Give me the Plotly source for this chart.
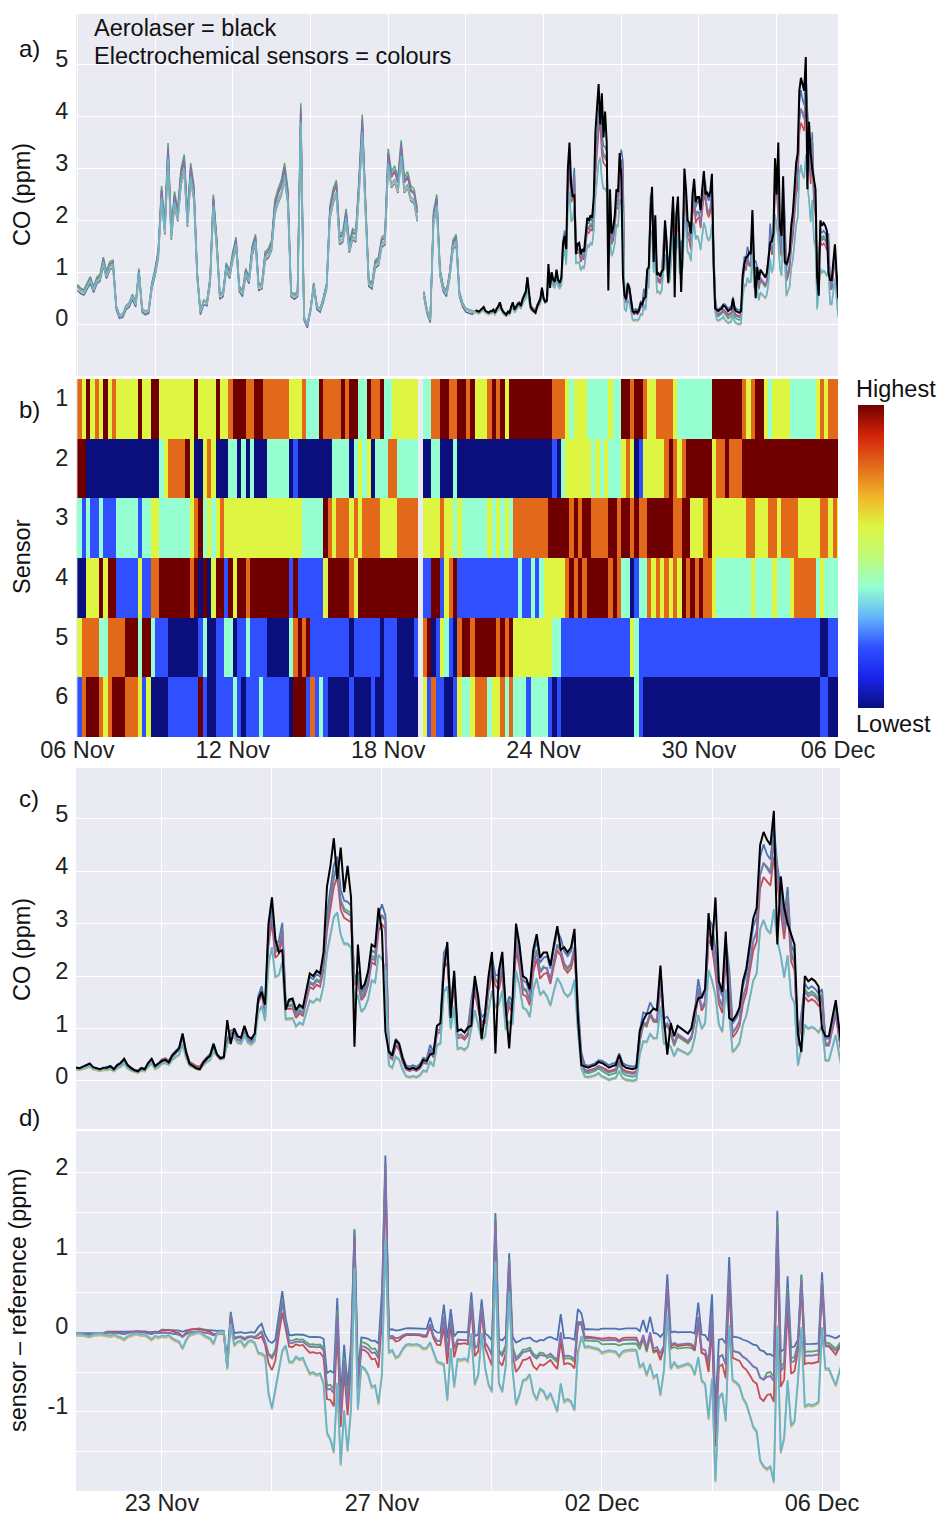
import numpy as np
import pandas as pd
import plotly.graph_objects as go

# ---------------------------------------------------------------- data ----
SENSOR_COLOURS = ["#4C72B0", "#55A868", "#C44E52", "#8172B2", "#CCB974", "#64B5CD"]

# Electrochemical sensor band (3-hourly, from 06 Nov 00:00); None = data gap
early_base = [
    0.72, 0.66, 0.63, 0.75, 0.86, 0.68, 0.85, 0.90, 1.20, 0.95,
    1.12, 1.15, 0.35, 0.18, 0.20, 0.35, 0.40, 0.55, 0.40, 1.00,
    0.30, 0.25, 0.28, 0.75, 1.00, 1.35, 2.45, 1.80, 3.20, 1.70,
    2.35, 2.05, 2.75, 3.00, 1.95, 2.85, 2.45, 0.95, 0.25, 0.45,
    0.42, 0.85, 2.30, 1.55, 0.55, 0.60, 1.10, 0.95, 1.30, 1.55,
    0.70, 0.60, 1.00, 0.85, 1.40, 1.60, 0.72, 0.75, 1.30, 1.35,
    1.50, 2.20, 2.40, 2.55, 2.85, 2.40, 0.60, 0.55, 0.60, 3.90,
    0.15, 0.00, 0.30, 0.75, 0.35, 0.30, 0.50, 0.75, 2.10, 2.40,
    2.55, 1.60, 1.65, 2.05, 1.45, 1.70, 1.65, 2.60, 3.70, 2.20,
    0.80, 0.75, 1.15, 1.20, 1.55, 1.60, 3.10, 2.70, 2.80, 2.60,
    3.25, 2.60, 2.70, 2.45, 2.40, 2.05, None, 0.60, 0.27, 0.10,
    2.00, 2.30, 1.00, 0.70, 0.60, 0.95, 1.50, 1.60, 0.60, 0.40,
    0.30, 0.28, 0.26,
]
early_gain = [1.00, 1.10, 1.06, 1.08, 0.99, 1.00]
early_offset = [-0.07, -0.03, -0.03, -0.05, -0.02, 0.00]

# Aerolaser reference CO (ppm), every 90 min from 21 Nov 09:00
ref_co = [
    0.27, 0.25, 0.24, 0.27, 0.30, 0.33, 0.26, 0.24, 0.22, 0.25,
    0.25, 0.28, 0.22, 0.30, 0.34, 0.42, 0.30, 0.24, 0.20, 0.18,
    0.24, 0.22, 0.34, 0.42, 0.28, 0.33, 0.38, 0.40, 0.35, 0.48,
    0.56, 0.62, 0.90, 0.55, 0.33, 0.28, 0.24, 0.22, 0.34, 0.42,
    0.48, 0.70, 0.50, 0.43, 0.45, 1.16, 0.70, 1.00, 0.85, 0.82,
    1.05, 0.85, 0.80, 0.90, 1.55, 1.70, 1.45, 3.00, 3.50, 2.70,
    2.45, 2.50, 1.35, 1.55, 1.57, 1.35, 1.45, 1.40, 1.75, 2.05,
    2.00, 2.10, 2.05, 2.45, 3.70, 4.10, 4.63, 3.85, 4.45, 3.60,
    4.10, 3.50, 0.65, 2.60, 1.75, 1.85, 2.10, 2.60, 2.55, 3.30,
    2.85, 0.94, 0.55, 0.48, 0.78, 0.70, 0.43, 0.25, 0.22, 0.25,
    0.22, 0.27, 0.40, 0.38, 0.50, 0.52, 1.05, 1.10, 2.10, 2.65,
    1.20, 2.10, 0.95, 0.98, 0.92, 1.02, 1.05, 2.00, 1.60, 0.80,
    1.30, 2.00, 2.46, 0.52, 2.10, 2.46, 1.40, 0.62, 1.57, 3.00,
    2.60, 2.00, 1.95, 1.75, 2.50, 2.80, 2.35, 2.45, 2.45, 2.20,
    2.60, 2.95, 2.50, 2.55, 2.45, 2.55, 2.90, 1.20, 0.30, 0.27,
    0.25, 0.28, 0.30, 0.36, 0.34, 0.30, 0.25, 0.28, 0.30, 0.49,
    0.30, 0.25, 0.24, 0.22, 0.25, 0.95, 1.15, 1.28, 1.30, 1.38,
    1.35, 2.20, 1.20, 0.50, 1.10, 0.85, 1.05, 1.00, 0.95, 0.90,
    1.00, 1.35, 1.57, 1.60, 1.75, 3.20, 2.50, 3.50, 1.90, 1.70,
    2.85, 1.20, 1.15, 1.25, 1.40, 1.90, 2.15, 2.60, 3.10, 3.30,
    4.50, 4.75, 4.60, 4.50, 5.15, 2.60, 3.90, 3.30, 3.00, 2.80,
    2.60, 0.90, 0.55, 2.00, 1.90, 1.95, 1.90, 1.80, 1.00, 0.85,
    0.85, 1.20, 1.54, 1.00, 0.50,
]

# sensor response relative to the reference
sensor_gain = [0.95, 0.90, 0.85, 0.90, 0.70, 0.70]
# daily baseline offsets (ppm), 21 Nov ... 05 Dec
daily_offset = [
    [0.00, 0.02, 0.05, 0.04, 0.04, 0.02, 0.06, 0.05, 0.02, 0.05, 0.06, 0.05, 0.00, -0.05, 0.00],
    [0.00, 0.02, 0.03, 0.03, 0.05, 0.05, 0.00, 0.00, -0.02, -0.08, -0.12, -0.10, -0.12, -0.05, -0.05],
    [0.00, 0.04, 0.08, 0.06, 0.05, 0.05, 0.00, 0.00, -0.05, -0.02, -0.03, -0.02, -0.15, -0.10, -0.05],
    [0.00, 0.02, 0.03, 0.02, 0.02, 0.00, 0.00, 0.00, -0.05, -0.05, -0.07, -0.05, -0.12, -0.10, -0.08],
    [0.03, 0.02, 0.05, 0.12, 0.08, 0.08, -0.10, -0.07, -0.02, -0.12, -0.17, -0.14, -0.27, -0.35, -0.22],
    [0.05, 0.04, 0.07, 0.14, 0.10, 0.10, -0.08, -0.05, 0.00, -0.10, -0.15, -0.12, -0.25, -0.33, -0.20],
]
# short-lived sensor/reference mismatches (sensor response lag)
lag_time = [
    "2015-11-24 04:30", "2015-11-24 06:00", "2015-11-24 18:00", "2015-11-24 19:30",
    "2015-11-25 03:00", "2015-11-25 04:30", "2015-11-25 06:00", "2015-11-26 00:00",
    "2015-11-26 01:30", "2015-11-26 03:00", "2015-11-26 04:30", "2015-11-26 06:00",
    "2015-11-26 09:00", "2015-11-26 12:00", "2015-11-26 13:30", "2015-11-27 00:00",
    "2015-11-27 01:30", "2015-11-27 21:00", "2015-11-28 03:00", "2015-11-28 06:00",
    "2015-11-28 15:00", "2015-11-28 19:30", "2015-11-29 01:30", "2015-11-29 07:30",
    "2015-11-30 06:00", "2015-11-30 13:30", "2015-11-30 15:00", "2015-12-01 18:00",
    "2015-12-01 21:00", "2015-12-02 04:30", "2015-12-02 18:00", "2015-12-03 00:00",
    "2015-12-03 01:30", "2015-12-03 07:30", "2015-12-04 04:30", "2015-12-04 09:00",
    "2015-12-04 15:00", "2015-12-05 00:00",
]
lag_ppm = [
    -0.35, 0.25, 0.10, 0.15,
    0.30, 0.60, 0.20, -0.35,
    -0.30, -0.30, 0.60, -0.60,
    -0.50, 1.30, -0.40, 0.60,
    2.20, 0.15, 0.40, 0.30,
    0.50, 0.40, 1.50, 1.00,
    0.30, 0.30, 0.20, 0.15,
    0.20, 0.70, 0.40, 0.60,
    -0.80, 1.00, 1.70, 0.90,
    0.80, 0.80,
]
lag_weight = [1.0, 1.0, 0.95, 1.0, 0.7, 0.7]

# sensor rank (N=1 lowest ... R=6 highest), 4-hourly from 06 Nov 00:00
RANK_CODE = {"N": 1, "B": 2, "A": 3, "Y": 4, "O": 5, "R": 6}
rank_rows = [
    "OYRYOYRYOY" "YYYYRYYRRY" "YYYYYYYRYY" "YYRYYORRRO" "ORROOOOOOY" "YYOAAAROOO"
    "ORORRAAROO" "RAAYYYYYY." "AAOORROORR" "ORYYYORORY" "RRRRRRRRRR" "OOOYAYYYAA"
    "AAAYAARROR" "ROYYOOOOYA" "AAAAAAARRR" "RRRROYORRY" "AYYYYAAAAA" "AYOYOOO",
    "RRNNNNNNNN" "NNNNNNNNNA" "YOOOORYNNY" "OYNNNAANAN" "ANNNAAAAAN" "BNNNNNNNNA"
    "AAANAYAYNA" "AAOOAAAAA." "NNAANNNANN" "NNNNNNNNNN" "NNNNNNNNNN" "BNAYYYYYYA"
    "YAYAAAYOYN" "BYYYYYOROY" "ORRRRRRYOO" "ROOORRRRRR" "RRRRRRRRRR" "RRRRRRR",
    "ABABBABBBA" "AAAABAAYYA" "AAAAAAYORA" "YAYOYYYYYY" "YYYYYYYYYY" "YYAAAAAROY"
    "OOOYOYOOOO" "YYYYOOOOO." "YYYYOYYAYA" "AAAAAYAYAY" "AOOOOOOOOR" "RRRRORORRO"
    "OOORRORROR" "OORRRRRROO" "RRYYYORYYY" "YYYYYOOYYY" "OOYOOOOYYY" "YYOOYOY",
    "NNYYYRYRRB" "BBBBYBBOOR" "RRRRRRORNR" "NYRRBRYRRO" "RRRRRRRRRB" "RBBBBBBYRR"
    "RRROYRRRRR" "RRRRRRRRR." "BBRRBYORBB" "BBBBBBBBBB" "BBABBABAYY" "YYYORORORR"
    "RRROROAANB" "AAOYOYOYOY" "ROROROOYAA" "AAAAAAYAAA" "AYAAAYOOOO" "OAYAAAA",
    "YOOOOAAOOO" "ORRRARRABB" "BNNNNNNNBA" "NNBBAANBBA" "BBBBNNNNNA" "ORORBBBBBB"
    "BBBNBBBBBB" "NBBBNNNNB." "ORNBYABNOR" "RORRRRRORO" "RYYYYYYYYY" "AABBBBBBBB"
    "BBBBBBBBYA" "BBBBBBBBBB" "BBBBBBBBBB" "BBBBBBBBBB" "BBBBBBBBBB" "BBNNBBB",
    "BORRROYORR" "ROOOYBYNNN" "NBBBBBBBRB" "NNBBBBABNB" "BBABBBBBBN" "RRRBOBABNN"
    "NNNBNNNNBN" "NBBBNNNNN." "YBOBBNNBYA" "AYOOOAYYOA" "OAAABAAAAB" "NBNNNNNNNN"
    "NNNNNNNNNA" "BNNNNNNNNN" "NNNNNNNNNN" "NNNNNNNNNN" "NNNNNNNNNN" "NNBBNNN",
]
sensor_ids = [1, 2, 3, 4, 5, 6]

panel_a_ticks = ["2015-11-06", "2015-11-12", "2015-11-18", "2015-11-24", "2015-11-30", "2015-12-05 08:50"]
panel_a_labels = ["06 Nov", "12 Nov", "18 Nov", "24 Nov", "30 Nov", "06 Dec"]
panel_d_ticks = ["2015-11-23", "2015-11-27", "2015-12-01", "2015-12-05"]
panel_d_labels = ["23 Nov", "27 Nov", "02 Dec", "06 Dec"]

# ------------------------------------------------------------ derived ----
t_early = pd.date_range("2015-11-06 00:00", periods=len(early_base), freq="3h")
t_ref = pd.date_range("2015-11-21 09:00", periods=len(ref_co), freq="90min")
day_idx = np.asarray((t_ref - pd.Timestamp("2015-11-21")).days)

base = np.array([np.nan if v is None else v for v in early_base], dtype=float)
ref = np.array(ref_co, dtype=float)
lag = pd.Series(0.0, index=t_ref)
lag.loc[pd.to_datetime(lag_time)] = lag_ppm
lag = lag.to_numpy()

early_series, late_series = [], []
for k in range(6):
    early_series.append(early_gain[k] * base + early_offset[k])
    late_series.append(sensor_gain[k] * ref + np.array(daily_offset[k])[day_idx]
                       + lag_weight[k] * lag)

n_cols = 177
t_rank = pd.date_range("2015-11-06 02:00", periods=n_cols, freq="4h")
z_rank = []
for row in rank_rows:
    row = row.ljust(n_cols, row[-1])[:n_cols]
    z_rank.append([RANK_CODE.get(c) for c in row])

# -------------------------------------------------------------- figure ----
W, H = 943, 1515
FONT = "Liberation Sans, Arial, sans-serif"
BG = "#EAEAF2"
DAY = 86400000
TXT = 23.5


def px(x):
    return x / W


def py(y):
    return 1 - y / H


fig = go.Figure()
t_all = t_early.append(t_ref)
for k in range(6):
    fig.add_trace(go.Scatter(
        x=t_all, y=np.concatenate([early_series[k], late_series[k]]),
        mode="lines", line=dict(color=SENSOR_COLOURS[k], width=1.5),
        xaxis="x", yaxis="y", showlegend=False))
fig.add_trace(go.Scatter(x=t_ref, y=ref, mode="lines", line=dict(color="black", width=2),
                         xaxis="x", yaxis="y", showlegend=False))

rank_scale = [
    [0.0, "rgb(10,15,125)"], [0.1, "rgb(25,35,235)"], [0.2, "rgb(48,80,255)"],
    [0.3, "rgb(100,180,250)"], [0.4, "rgb(150,255,210)"], [0.5, "rgb(190,250,120)"],
    [0.6, "rgb(222,245,66)"], [0.7, "rgb(240,180,40)"], [0.8, "rgb(226,105,26)"],
    [0.9, "rgb(210,35,10)"], [1.0, "rgb(112,0,0)"],
]
fig.add_trace(go.Heatmap(
    x=t_rank, y=sensor_ids, z=z_rank, zmin=1, zmax=6, colorscale=rank_scale,
    xaxis="x2", yaxis="y2", hoverongaps=False,
    colorbar=dict(x=px(858), xanchor="left", y=py(556.5), yanchor="middle",
                  len=303 / H, lenmode="fraction", thickness=26, outlinewidth=0,
                  xpad=0, ypad=0, showticklabels=False, ticks="")))

for k in range(6):
    fig.add_trace(go.Scatter(x=t_ref, y=late_series[k], mode="lines",
                             line=dict(color=SENSOR_COLOURS[k], width=1.8),
                             xaxis="x3", yaxis="y3", showlegend=False))
fig.add_trace(go.Scatter(x=t_ref, y=ref, mode="lines", line=dict(color="black", width=2),
                         xaxis="x3", yaxis="y3", showlegend=False))

for k in range(6):
    fig.add_trace(go.Scatter(x=t_ref, y=late_series[k] - ref, mode="lines",
                             line=dict(color=SENSOR_COLOURS[k], width=1.8),
                             xaxis="x4", yaxis="y4", showlegend=False))

tickfont = dict(family=FONT, size=TXT, color="#222")
grid = dict(showgrid=True, gridcolor="white", gridwidth=1.3, zeroline=False,
            showline=False, automargin=False)
ypad = dict(ticks="outside", ticklen=2, tickcolor="rgba(0,0,0,0)", tickfont=tickfont)
range_ab = ["2015-11-05 22:42", "2015-12-05 08:50"]
range_cd = ["2015-11-21 10:30", "2015-12-05 07:51"]
dom_ab = [px(76), px(838)]
dom_cd = [px(76), px(840)]

fig.update_layout(
    width=W, height=H, margin=dict(l=0, r=0, t=0, b=0, autoexpand=False),
    paper_bgcolor="white", plot_bgcolor=BG, showlegend=False,
    font=dict(family=FONT, size=TXT, color="#222"),
    xaxis=dict(domain=dom_ab, anchor="y", type="date", range=range_ab,
               tick0="2015-11-06", dtick=3 * DAY, showticklabels=False, **grid),
    yaxis=dict(domain=[py(376), py(14)], anchor="x", range=[-1.0, 5.98],
               tickvals=[0, 1, 2, 3, 4, 5], ticklabelshift=-6, **grid, **ypad),
    xaxis2=dict(domain=dom_ab, anchor="y2", type="date", range=range_ab,
                tickvals=panel_a_ticks, ticktext=panel_a_labels, showgrid=False,
                zeroline=False, automargin=False, ticks="", ticklabelstandoff=-4,
                tickfont=tickfont),
    yaxis2=dict(domain=[py(737), py(379)], anchor="x2", range=[6.5, 0.5],
                tickvals=sensor_ids, ticklabelshift=11, showgrid=False, zeroline=False,
                automargin=False, **ypad),
    xaxis3=dict(domain=dom_cd, anchor="y3", type="date", range=range_cd,
                tick0="2015-11-21", dtick=2 * DAY, showticklabels=False, **grid),
    yaxis3=dict(domain=[py(1129), py(768)], anchor="x3", range=[-0.92, 5.97],
                tickvals=[0, 1, 2, 3, 4, 5], ticklabelshift=-5, **grid, **ypad),
    xaxis4=dict(domain=dom_cd, anchor="y4", type="date", range=range_cd,
                tickvals=panel_d_ticks, ticktext=panel_d_labels,
                ticks="", ticklabelstandoff=-5, tickfont=tickfont,
                minor=dict(tick0="2015-11-21", dtick=2 * DAY, showgrid=True,
                           gridcolor="white", gridwidth=1.3), **grid),
    yaxis4=dict(domain=[py(1491), py(1131)], anchor="x4", range=[-1.99, 2.52],
                tickvals=[-1.5, -1, -0.5, 0, 0.5, 1, 1.5, 2],
                ticktext=["", "-1", "", "0", "", "1", "", "2"], ticklabelshift=-6,
                **grid, **ypad),
)


def note(text, x, y, size=TXT, angle=0, xanchor="center"):
    fig.add_annotation(text=text, x=px(x), y=py(y), xref="paper", yref="paper",
                       showarrow=False, textangle=angle, xanchor=xanchor, yanchor="middle",
                       font=dict(family=FONT, size=size, color="#111"))


note("Aerolaser = black", 92, 28, xanchor="left")
note("Electrochemical sensors = colours", 92, 56, xanchor="left")
note("a)", 29, 48, size=24)
note("b)", 29, 410, size=24)
note("c)", 29, 798, size=24)
note("d)", 29, 1117, size=24)
note("CO (ppm)", 22, 195, angle=-90)
note("Sensor", 22, 557, angle=-90)
note("CO (ppm)", 22, 950, angle=-90)
note("sensor \u2013 reference (ppm)", 18, 1300, angle=-90)
note("Highest", 896, 389)
note("Lowest", 893, 724)

fig.write_html("out.html")
